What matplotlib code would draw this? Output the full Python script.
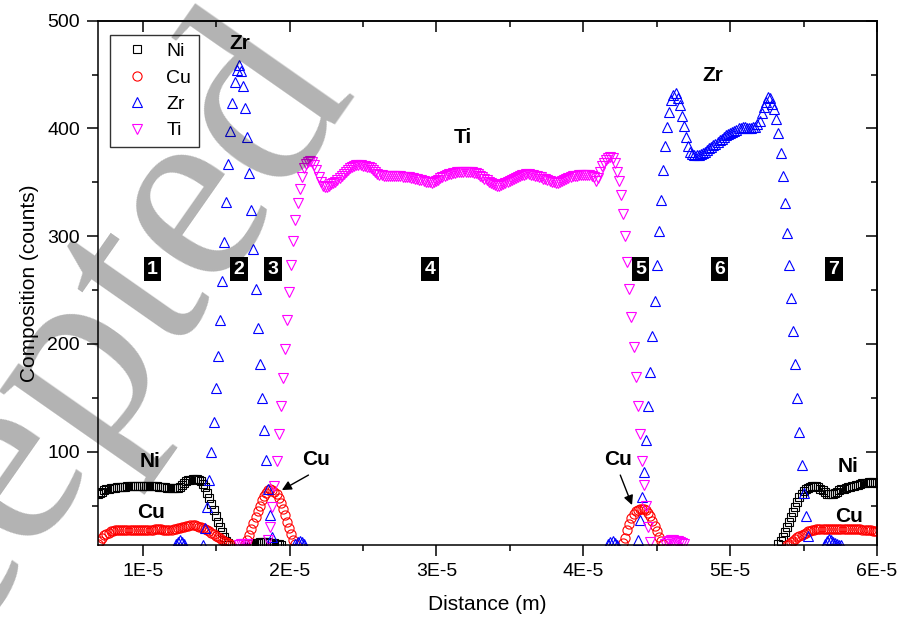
import numpy as np
import matplotlib
matplotlib.use('Agg')
import matplotlib.pyplot as plt
from matplotlib.ticker import MultipleLocator, FuncFormatter

plt.rcParams['font.family'] = ['Liberation Sans', 'DejaVu Sans']

# EDS line scan grid, distance in um
x0 = 6.96
dx = 0.143

# --- Ni (start index on grid, counts) ---
ni_a_start = 0
ni_a = [61, 62, 63, 64, 65, 65.5, 66, 66.5, 66.5, 67,
        67, 67, 67.5, 67.5, 68, 68, 68, 68, 68, 68.5,
        68.5, 68.5, 68.5, 68.5, 68, 68, 68, 68, 68, 67.5,
        67.5, 67, 67, 66.5, 66.5, 66, 66, 66, 66.5, 67.5,
        69, 71, 72.5, 73.5, 74, 74.5, 75, 74.5, 74, 72.5,
        70, 67, 62, 57, 51.5, 46, 40.5, 35, 30, 25.5,
        21, 17.5, 15, 13.5]
ni_b_start = 72
ni_b = [14, 14.5, 15, 15.5, 15.5, 16, 16, 16, 16, 16, 15.5, 15.5, 15, 14.5, 14, 13.5]
ni_c_start = 324
ni_c = [14, 17, 21, 25.5, 30, 34.5, 39.5, 44, 48.5, 53,
        57.5, 61, 63.5, 65.5, 66.5, 67.5, 68, 68, 68, 67,
        65.5, 64, 62.5, 61, 60.5, 60.5, 61, 62, 63, 64,
        65, 65.5, 66.5, 67, 67.5, 68, 68.5, 69, 69.5, 70,
        70.5, 71, 71, 71.5, 71.5, 71.5, 71, 70.5]

# --- Cu ---
cu_a_start = 0
cu_a = [14, 17, 20, 22.5, 24, 25, 26, 26.5, 27, 27,
        27, 27.5, 27.5, 27.5, 27.5, 27.5, 27, 27, 27, 27,
        27, 27, 27, 27.5, 27.5, 27.5, 27.5, 28, 28, 28,
        28, 27.5, 27.5, 27.5, 27.5, 27.5, 28, 28.5, 29, 29.5,
        30, 30.5, 31, 31, 31.5, 31.5, 31.5, 31, 30.5, 30,
        29, 28, 27, 26, 25, 23.5, 22, 21, 20, 18.5,
        17, 16, 15, 14]
cu_b_start = 70
cu_b = [14, 18, 23, 28, 33.5, 39, 44.5, 50, 55, 59,
        62, 64, 65, 64.5, 63, 60.5, 57, 52.5, 47, 41,
        35, 29, 23.5, 18.5, 14.5]
cu_c_start = 250
cu_c = [15, 20, 27, 33, 38, 42, 44.5, 46, 47, 47,
        46.5, 45.5, 43.5, 40, 36, 31, 26, 21, 17, 14]
cu_d_start = 328
cu_d = [13, 14.5, 16, 17.5, 19, 20.5, 22, 23, 24, 25,
        26, 26.5, 27, 27.5, 28, 28, 28.5, 28.5, 28.5, 28.5,
        28.5, 28.5, 28.5, 28.5, 28.5, 28.5, 28.5, 28.5, 28.5, 28.5,
        28.5, 28, 28, 28, 28, 28, 27.5, 27.5, 27.5, 27,
        27, 26.5, 26.5, 26]

# --- Zr ---
zr_a_start = 37
zr_a = [14, 16, 18, 16, 14]
zr_b_start = 50
zr_b = [13.3, 29, 49, 74, 100, 128, 159, 189, 222, 258,
        295, 332, 367, 398, 424, 443, 454, 459, 453, 439,
        419, 392, 359, 324, 288, 251, 215, 181, 150, 120,
        92, 65, 41, 21]
zr_c_start = 94
zr_c = [14, 16, 17, 16, 14]
zr_d_start = 243
zr_d = [14, 16, 17, 15, 13]
zr_e_start = 257
zr_e = [18, 37, 58, 81, 111, 142, 174, 207, 240, 273,
        305, 334, 361, 384, 401, 415, 426, 431, 433, 428,
        422, 412, 402, 392, 384, 378, 376, 375, 375, 375.5,
        376.5, 377.5, 378.5, 380, 381.5, 383, 384.5, 386, 387.5, 389,
        390.5, 392, 393.5, 395, 396, 397, 398, 399, 400, 400.5,
        401, 401, 400.5, 400.5, 400.5, 401, 401.5, 404, 407, 414,
        420, 425, 429, 428, 423, 418, 409, 396, 377, 356,
        331, 303, 273, 243, 212, 181, 150, 118, 88, 62,
        40, 22]
zr_f_start = 346
zr_f = [14, 17, 19, 18, 16, 15, 14, 13.5, 13]

# --- Ti ---
ti_a_start = 67
ti_a = [13.5, 14, 14.5, 14.5, 14]
ti_b_start = 81
ti_b = [18, 30, 49, 68, 91, 116, 142, 168, 195, 222,
        248, 273, 296, 315, 331, 344, 355, 363, 367, 369,
        369.5, 369, 366, 361, 355, 350, 346.5, 345.5, 346, 347,
        348, 349, 350, 352, 354, 356, 357.5, 359.5, 361.5, 363,
        364.5, 365.5, 366, 366, 366, 365.5, 365, 364.5, 364, 363,
        361.5, 360, 358, 357, 356.5, 356, 356, 356, 356, 356,
        356, 355.5, 355.5, 355.5, 355, 355, 355, 354.5, 354, 354,
        353.5, 353, 352.5, 352, 351, 350.5, 350, 350, 349.5, 350,
        351, 352.5, 354, 355, 356, 357, 357.5, 358, 358.5, 359,
        359.5, 359.5, 360, 360, 360, 360, 360, 359.5, 359, 358.5,
        357.5, 356, 355, 353.5, 352, 350.5, 349.5, 348.5, 347.5, 347,
        347, 347.5, 348, 349, 350, 351, 352, 353, 354, 355,
        356, 356.5, 357, 357.5, 357.5, 357, 356.5, 356, 355.5, 355,
        354.5, 353.5, 353, 352, 351, 350.5, 350, 349.5, 349.5, 350,
        351, 352, 353, 354, 355, 355.5, 356, 356, 356.5, 356.5,
        357, 357, 357, 356.5, 356, 354.5, 351, 354, 360, 365,
        368, 371, 373, 373.5, 372.5, 368, 360, 351, 338, 321,
        300, 276, 251, 225, 197, 169, 142, 116, 91, 69,
        50, 30, 16]
ti_c_start = 270
ti_c = [14, 16, 17, 18, 18, 17.5, 17, 16, 15, 14]

# zone numbers
zone_labels = ['1', '2', '3', '4', '5', '6', '7']
zone_x = [10.67, 16.56, 18.86, 29.58, 43.9, 49.28, 57.05]
zone_y = 269.5

xtick_vals = [1e-5, 2e-5, 3e-5, 4e-5, 5e-5, 6e-5]


def series(*segs):
    xs, ys = [], []
    for start, vals in segs:
        idx = start + np.arange(len(vals))
        xs.append((x0 + dx * idx) * 1e-6)
        ys.append(np.asarray(vals, dtype=float))
    return np.concatenate(xs), np.concatenate(ys)


fig = plt.figure(figsize=(9.01, 6.20), dpi=100)
ax = fig.add_axes([98 / 901, 75 / 620, 779 / 901, 524.3 / 620])

x, y = series((ni_a_start, ni_a), (ni_b_start, ni_b), (ni_c_start, ni_c))
ax.plot(x, y, ls='none', marker='s', ms=5.8, mfc='none', mec='black', mew=0.8, label='Ni')
x, y = series((cu_a_start, cu_a), (cu_b_start, cu_b), (cu_c_start, cu_c), (cu_d_start, cu_d))
ax.plot(x, y, ls='none', marker='o', ms=6.6, mfc='none', mec='red', mew=0.8, label='Cu')
x, y = series((zr_a_start, zr_a), (zr_b_start, zr_b), (zr_c_start, zr_c),
              (zr_d_start, zr_d), (zr_e_start, zr_e), (zr_f_start, zr_f))
ax.plot(x, y, ls='none', marker='^', ms=7.2, mfc='none', mec='blue', mew=0.8, label='Zr')
x, y = series((ti_a_start, ti_a), (ti_b_start, ti_b), (ti_c_start, ti_c))
ax.plot(x, y, ls='none', marker='v', ms=7.2, mfc='none', mec='magenta', mew=0.8, label='Ti')

ax.set_xlim(6.96e-6, 60e-6)
ax.set_ylim(13.4, 500)

ax.set_xticks(xtick_vals)
ax.xaxis.set_minor_locator(MultipleLocator(0.5e-5))
ax.xaxis.set_major_formatter(FuncFormatter(lambda v, p: '%dE-5' % round(v * 1e5)))
ax.yaxis.set_major_locator(MultipleLocator(100))
ax.yaxis.set_minor_locator(MultipleLocator(50))
ax.tick_params(which='both', direction='out', top=False, right=False, width=1.1, labelsize=14)
ax.tick_params(which='major', length=8, pad=5)
ax.tick_params(which='minor', length=4)
for s in ax.spines.values():
    s.set_linewidth(1.1)

# mirrored ticks on top / right, pointing in
secx = ax.secondary_xaxis('top')
secx.set_xticks(xtick_vals)
secx.xaxis.set_minor_locator(MultipleLocator(0.5e-5))
secx.tick_params(which='both', direction='in', labeltop=False, width=1.1)
secx.tick_params(which='major', length=8)
secx.tick_params(which='minor', length=4)
secx.spines['top'].set_linewidth(1.1)
secy = ax.secondary_yaxis('right')
secy.yaxis.set_major_locator(MultipleLocator(100))
secy.yaxis.set_minor_locator(MultipleLocator(50))
secy.tick_params(which='both', direction='in', labelright=False, width=1.1)
secy.tick_params(which='major', length=8)
secy.tick_params(which='minor', length=4)
secy.spines['right'].set_linewidth(1.1)

ax.set_xlabel('Distance (m)', fontsize=15, labelpad=11)
ax.set_ylabel('Composition (counts)', fontsize=15, labelpad=6)

leg = ax.legend(loc='upper left', bbox_to_anchor=(0.0154, 0.973), borderaxespad=0,
                fancybox=False, edgecolor='black', fontsize=14, handlelength=2.0,
                handletextpad=0.5, labelspacing=0.45, borderpad=0.4)
leg.get_frame().set_linewidth(1.0)

# element labels
lab = dict(fontsize=15, fontweight='bold', ha='center', va='center')
ax.text(16.63e-6, 479, 'Zr', **lab)
ax.text(31.82e-6, 391.6, 'Ti', **lab)
ax.text(48.85e-6, 448.7, 'Zr', **lab)
ax.text(10.5e-6, 91.3, 'Ni', **lab)
ax.text(10.57e-6, 44, 'Cu', **lab)
ax.text(21.81e-6, 93.2, 'Cu', **lab)
ax.text(42.35e-6, 93.2, 'Cu', **lab)
ax.text(58.05e-6, 86.7, 'Ni', **lab)
ax.text(58.12e-6, 39.9, 'Cu', **lab)
arr = dict(arrowstyle='-|>', color='black', lw=1.0, mutation_scale=14, shrinkA=0, shrinkB=0)
ax.annotate('', xy=(19.48e-6, 64.4), xytext=(21.29e-6, 78.3), arrowprops=arr)
ax.annotate('', xy=(43.32e-6, 50.5), xytext=(42.52e-6, 78.3), arrowprops=arr)

for lbl, zx in zip(zone_labels, zone_x):
    ax.text(zx * 1e-6, zone_y, lbl, color='white', fontsize=14, fontweight='bold',
            ha='center', va='center',
            bbox=dict(boxstyle='square,pad=0.18', fc='black', ec='none'))

# manuscript watermark
fig.text(0.02, 0.255, 'Accepted', rotation=55, fontsize=190, family='Liberation Serif',
         color='black', alpha=0.3, ha='center', va='center', zorder=10)

fig.savefig('out.png', dpi=100)
